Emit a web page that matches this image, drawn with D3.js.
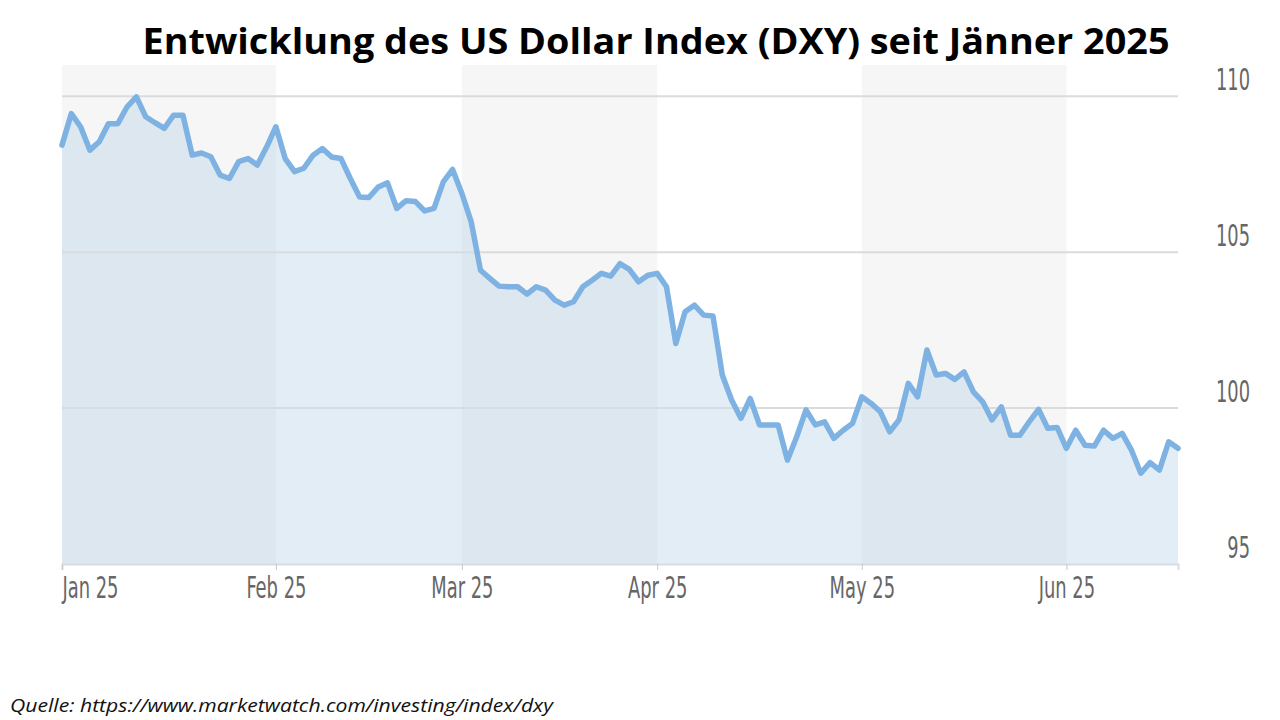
<!DOCTYPE html>
<html><head><meta charset="utf-8">
<script src="https://cdn.jsdelivr.net/npm/d3@7"></script>
<style>
body{margin:0;background:#fff;}
svg{display:block;}
</style></head>
<body>
<svg id="c" width="1280" height="720"></svg>
<script>
// DXY daily closes, one per weekday starting 2025-01-01
const startDate = "2025-01-01";
const values = [
108.43,109.44,109.02,108.27,108.54,109.12,109.12,109.66,109.98,109.34,
109.15,108.97,109.39,109.39,108.11,108.18,108.06,107.47,107.36,107.90,
108.00,107.79,108.37,109.02,108.00,107.58,107.69,108.11,108.32,108.05,
108.00,107.36,106.77,106.75,107.09,107.22,106.40,106.65,106.62,106.32,
106.40,107.25,107.65,106.88,105.97,104.42,104.16,103.91,103.89,103.89,
103.65,103.89,103.78,103.46,103.30,103.41,103.89,104.10,104.32,104.23,
104.63,104.45,104.05,104.26,104.32,103.89,102.07,103.09,103.30,102.98,
102.95,101.06,100.26,99.67,100.31,99.46,99.46,99.46,98.33,99.08,
99.94,99.46,99.56,99.03,99.29,99.51,100.36,100.15,99.88,99.24,
99.62,100.79,100.36,101.86,101.06,101.11,100.92,101.16,100.52,100.20,
99.62,100.04,99.13,99.13,99.56,99.96,99.35,99.38,98.71,99.29,
98.81,98.78,99.29,99.03,99.19,98.65,97.91,98.25,98.01,98.92,
98.71
];
const monthLabels = ["Jan 25","Feb 25","Mar 25","Apr 25","May 25","Jun 25"];
const yTicks = [95,100,105,110];
const title = "Entwicklung des US Dollar Index (DXY) seit Jänner 2025";
const source = "Quelle: https://www.marketwatch.com/investing/index/dxy";

// build weekday dates
const dates = [];
{ let d = new Date(startDate + "T00:00:00Z");
  while (dates.length < values.length) {
    const wd = d.getUTCDay();
    if (wd !== 0 && wd !== 6) dates.push(new Date(d));
    d = new Date(d.getTime() + 86400000);
  } }
const data = values.map((v,i)=>({i, date:dates[i], v}));
const monthStarts = [];
data.forEach((d,i)=>{ if(i===0 || d.date.getUTCMonth()!==data[i-1].date.getUTCMonth()) monthStarts.push(i); });

const svg = d3.select("#c");
const L=62, R=1178, T=65, B=564;
const x = d3.scaleLinear().domain([0, values.length-1]).range([L,R]);
const y = d3.scaleLinear().domain([95,111]).range([B,T]);

// alternating month bands
const bandEdges = monthStarts.map(i=>x(i)).concat([R]);
monthStarts.forEach((m,k)=>{
  if(k%2===0){
    svg.append("rect").attr("x",bandEdges[k]).attr("y",T)
      .attr("width",bandEdges[k+1]-bandEdges[k]).attr("height",B-T)
      .attr("fill","#f6f6f6");
  }
});

// area
svg.append("path").datum(data)
  .attr("d", d3.area().x(d=>x(d.i)).y0(y(95)).y1(d=>y(d.v)))
  .attr("fill","rgba(160,195,222,0.30)");

// gridlines
svg.append("g").selectAll("line").data(yTicks.filter(t=>t>95)).join("line")
  .attr("x1",L).attr("x2",R).attr("y1",d=>y(d)).attr("y2",d=>y(d))
  .attr("stroke","#d9dcdf").attr("stroke-width",2);

// line
svg.append("path").datum(data)
  .attr("d", d3.line().x(d=>x(d.i)).y(d=>y(d.v)))
  .attr("fill","none").attr("stroke","#7eb2e2").attr("stroke-width",5.5)
  .attr("stroke-linejoin","round").attr("stroke-linecap","round");

const axisFont = "'Liberation Sans Narrow','DejaVu Sans Condensed','Roboto Condensed','DejaVu Sans',sans-serif";

// x axis
const gx = svg.append("g").attr("transform",`translate(0,${B})`)
  .call(d3.axisBottom(x).tickValues(monthStarts).tickFormat((d,k)=>monthLabels[k]).tickSize(6).tickPadding(0));
gx.select(".domain").attr("stroke","#d6dde4").attr("stroke-width",2);
gx.selectAll(".tick line").attr("stroke","#c8c8c8");
const xt = gx.selectAll(".tick text").attr("fill","#666").attr("dy",null).attr("y",34)
  .style("font-family",axisFont).style("font-size","30px");
// condense glyphs to match the narrow reference face
let kx = 1;
xt.each(function(d,k){ if(k===1) kx = 60/this.getComputedTextLength(); });
xt.each(function(){ const w=this.getComputedTextLength(); d3.select(this).attr("textLength",w*kx).attr("lengthAdjust","spacingAndGlyphs"); });
gx.selectAll(".tick").filter((d,k)=>k===0).select("text").attr("text-anchor","start");

// y axis labels (right)
const gy = svg.append("g").attr("transform",`translate(1250,0)`)
  .call(d3.axisRight(y).tickValues(yTicks).tickSize(0).tickPadding(0));
gy.select(".domain").remove();
const yt = gy.selectAll(".tick text").attr("fill","#666").attr("dy",null).attr("y",-6.7)
  .attr("text-anchor","end").style("font-family",axisFont).style("font-size","30px");
let ky = 1;
yt.each(function(d){ if(d===110) ky = 34/this.getComputedTextLength(); });
yt.each(function(){ const w=this.getComputedTextLength(); d3.select(this).attr("textLength",w*ky).attr("lengthAdjust","spacingAndGlyphs"); });

// title
const tt = svg.append("text").attr("x",656).attr("y",54).attr("text-anchor","middle")
  .style("font-family","'Open Sans','Noto Sans',sans-serif").style("font-weight","bold")
  .style("font-size","36px").attr("fill","#000").text(title);
tt.attr("textLength",1027).attr("lengthAdjust","spacingAndGlyphs");

// source
svg.append("text").attr("x",10).attr("y",712)
  .style("font-family","'Open Sans','Noto Sans',sans-serif").style("font-style","italic")
  .style("font-size","18px").attr("fill","#111").attr("textLength",543).attr("lengthAdjust","spacingAndGlyphs")
  .text(source);
</script>
</body></html>
